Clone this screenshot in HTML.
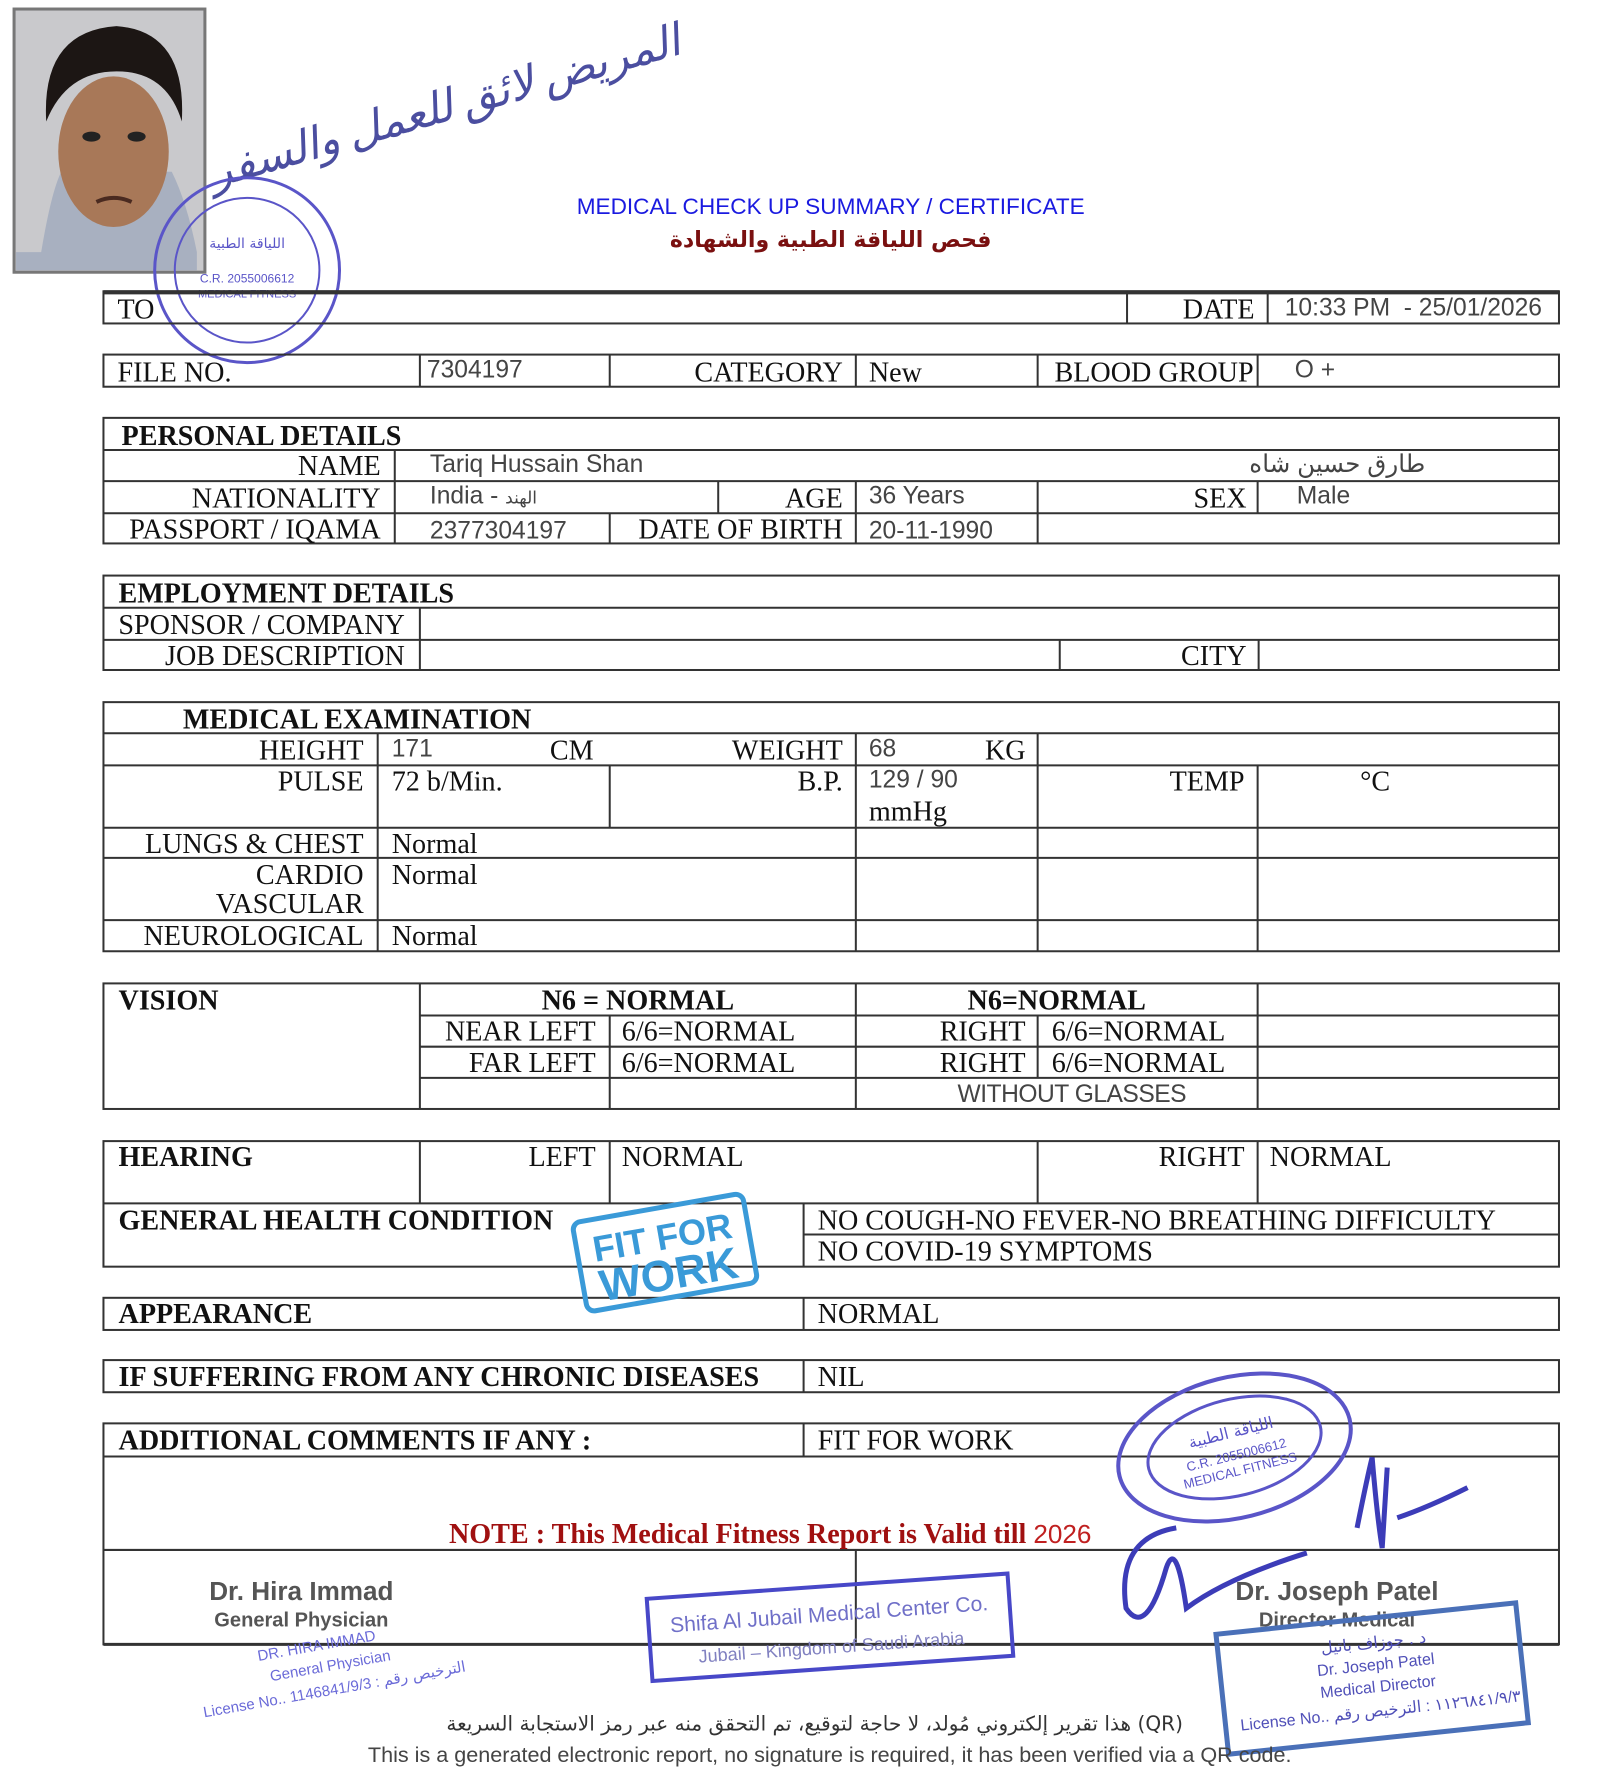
<!DOCTYPE html>
<html><head><meta charset="utf-8"><style>
html,body{margin:0;padding:0;background:#fff;width:1621px;height:1772px;overflow:hidden}
svg{display:block}
.s{font-family:"Liberation Serif","Noto Serif CJK SC",serif;font-size:28px;fill:#111}
.b{font-weight:bold}
.a{font-family:"Liberation Sans","Noto Sans CJK SC",sans-serif;font-size:24.5px;fill:#444}
.note{fill:#a01010}
</style></head><body>
<svg width="1621" height="1772" viewBox="0 0 1621 1772" xmlns="http://www.w3.org/2000/svg">
<g transform="translate(1,1) scale(1.0045)">
<rect x="13" y="8" width="190" height="262" fill="#c9c9cc" stroke="#777" stroke-width="3"/>
<path d="M40 250 Q50 190 60 170 L170 170 Q185 200 195 250 L195 268 L15 268 L15 250Z" fill="#a8b0c0"/>
<ellipse cx="112" cy="150" rx="55" ry="75" fill="#a87858"/>
<path d="M45 120 Q40 30 115 25 Q185 30 180 120 Q165 70 115 70 Q65 70 45 120Z" fill="#1c1614"/>
<ellipse cx="90" cy="135" rx="9" ry="5" fill="#222"/><ellipse cx="135" cy="135" rx="9" ry="5" fill="#222"/>
<path d="M95 200 Q112 192 130 200" stroke="#4a2a20" stroke-width="4" fill="none"/>
<text x="440" y="120" transform="rotate(-16 440 100)" text-anchor="middle" font-family="'Noto Sans CJK SC','DejaVu Sans',sans-serif" font-size="44" fill="#4b4ea0" font-style="italic">المريض لائق للعمل والسفر</text>
<g fill="none" stroke="#5a55c8" stroke-width="3"><circle cx="245" cy="268" r="92"/><circle cx="245" cy="268" r="72" stroke-width="2"/></g>
<text x="245" y="246" text-anchor="middle" font-family="'DejaVu Sans',sans-serif" font-size="14" fill="#5a55c8">اللياقة الطبية</text>
<text x="245" y="280" text-anchor="middle" font-family="'Liberation Sans',sans-serif" font-size="12" fill="#5a55c8">C.R. 2055006612</text>
<text x="245" y="295" text-anchor="middle" font-family="'Liberation Sans',sans-serif" font-size="11" fill="#5a55c8">MEDICAL FITNESS</text>
<text x="826" y="212" text-anchor="middle" font-family="'Liberation Sans',sans-serif" font-size="22.5" fill="#1a1ae0">MEDICAL CHECK UP SUMMARY / CERTIFICATE</text>
<text x="826" y="245" text-anchor="middle" font-family="'DejaVu Sans','Noto Sans CJK SC',sans-serif" font-size="22" font-weight="bold" fill="#7a1010">فحص اللياقة الطبية والشهادة</text>

<g stroke="#333" stroke-width="2" fill="none">
<rect x="102" y="289" width="1449" height="32"/><line x1="102" y1="290" x2="1551" y2="290" stroke-width="4"/>
<line x1="1121" y1="289" x2="1121" y2="321"/><line x1="1261" y1="289" x2="1261" y2="321"/>
<rect x="102" y="352" width="1449" height="32"/>
<line x1="417" y1="352" x2="417" y2="384"/><line x1="606" y1="352" x2="606" y2="384"/><line x1="851" y1="352" x2="851" y2="384"/><line x1="1032" y1="352" x2="1032" y2="384"/><line x1="1251" y1="352" x2="1251" y2="384"/>
<rect x="102" y="415" width="1449" height="125"/>
<line x1="102" y1="447" x2="1551" y2="447"/><line x1="102" y1="478" x2="1551" y2="478"/><line x1="102" y1="510" x2="1551" y2="510"/>
<line x1="392" y1="447" x2="392" y2="540"/>
<line x1="714" y1="478" x2="714" y2="510"/><line x1="851" y1="478" x2="851" y2="540"/><line x1="1032" y1="478" x2="1032" y2="540"/><line x1="1251" y1="478" x2="1251" y2="510"/>
<line x1="606" y1="510" x2="606" y2="540"/>
<rect x="102" y="572" width="1449" height="94"/>
<line x1="102" y1="604" x2="1551" y2="604"/><line x1="102" y1="636" x2="1551" y2="636"/>
<line x1="417" y1="604" x2="417" y2="666"/><line x1="1054" y1="636" x2="1054" y2="666"/><line x1="1252" y1="636" x2="1252" y2="666"/>
<rect x="102" y="698" width="1449" height="248"/>
<line x1="102" y1="729" x2="1551" y2="729"/><line x1="102" y1="761" x2="1551" y2="761"/><line x1="102" y1="823" x2="1551" y2="823"/><line x1="102" y1="853" x2="1551" y2="853"/><line x1="102" y1="915" x2="1551" y2="915"/>
<line x1="375" y1="729" x2="375" y2="946"/><line x1="851" y1="729" x2="851" y2="946"/><line x1="1032" y1="729" x2="1032" y2="946"/>
<line x1="606" y1="761" x2="606" y2="823"/><line x1="1251" y1="761" x2="1251" y2="946"/>
<rect x="102" y="978" width="1449" height="125"/>
<line x1="417" y1="1010" x2="1551" y2="1010"/><line x1="417" y1="1041" x2="1551" y2="1041"/><line x1="417" y1="1072" x2="1551" y2="1072"/>
<line x1="417" y1="978" x2="417" y2="1103"/><line x1="851" y1="978" x2="851" y2="1103"/><line x1="1251" y1="978" x2="1251" y2="1103"/>
<line x1="606" y1="1010" x2="606" y2="1103"/><line x1="1032" y1="1010" x2="1032" y2="1072"/>
<rect x="102" y="1135" width="1449" height="125"/>
<line x1="102" y1="1197" x2="1551" y2="1197"/>
<line x1="417" y1="1135" x2="417" y2="1197"/><line x1="606" y1="1135" x2="606" y2="1197"/><line x1="1032" y1="1135" x2="1032" y2="1197"/><line x1="1251" y1="1135" x2="1251" y2="1197"/>
<line x1="799" y1="1197" x2="799" y2="1260"/><line x1="799" y1="1228" x2="1551" y2="1228"/>
<rect x="102" y="1291" width="1449" height="32"/><line x1="799" y1="1291" x2="799" y2="1323"/>
<rect x="102" y="1353" width="1449" height="32"/><line x1="799" y1="1353" x2="799" y2="1385"/>
<rect x="102" y="1416" width="1449" height="220"/>
<line x1="102" y1="1449" x2="1551" y2="1449"/><line x1="799" y1="1416" x2="799" y2="1449"/>
<line x1="102" y1="1542" x2="1551" y2="1542"/><line x1="851" y1="1542" x2="851" y2="1636"/>
<line x1="102" y1="1636" x2="1551" y2="1636" stroke-width="3"/>
</g>

<text class="s" x="116" y="316">TO</text>
<text class="s" x="1248" y="316" text-anchor="end">DATE</text>
<text class="a" x="1278" y="313" font-size="25.5" xml:space="preserve">10:33 PM  - 25/01/2026</text>

<text class="s" x="116" y="379">FILE NO.</text>
<text class="a" x="424" y="375">7304197</text>
<text class="s" x="838" y="379" text-anchor="end">CATEGORY</text>
<text class="s" x="864" y="379">New</text>
<text class="s" x="1247" y="379" text-anchor="end">BLOOD GROUP</text>
<text class="a" x="1288" y="375">O +</text>

<text class="s b" x="120" y="442">PERSONAL DETAILS</text>
<text class="s" x="378" y="472" text-anchor="end">NAME</text>
<text class="a" x="427" y="469">Tariq Hussain Shan</text>
<text class="a" x="1418" y="469" text-anchor="end" font-family="'DejaVu Sans',sans-serif" font-size="17">طارق حسين شاه</text>
<text class="s" x="378" y="504" text-anchor="end">NATIONALITY</text>
<text class="a" x="427" y="500">India - <tspan font-family="'DejaVu Sans',sans-serif" font-size="17">الهند</tspan></text>
<text class="s" x="838" y="504" text-anchor="end">AGE</text>
<text class="a" x="864" y="500">36 Years</text>
<text class="s" x="1240" y="504" text-anchor="end">SEX</text>
<text class="a" x="1290" y="500">Male</text>
<text class="s" x="378" y="535" text-anchor="end">PASSPORT / IQAMA</text>
<text class="a" x="427" y="535">2377304197</text>
<text class="s" x="838" y="535" text-anchor="end">DATE OF BIRTH</text>
<text class="a" x="864" y="535">20-11-1990</text>

<text class="s b" x="117" y="599">EMPLOYMENT DETAILS</text>
<text class="s" x="402" y="630" text-anchor="end">SPONSOR / COMPANY</text>
<text class="s" x="402" y="661" text-anchor="end">JOB DESCRIPTION</text>
<text class="s" x="1240" y="661" text-anchor="end">CITY</text>

<text class="s b" x="181" y="724">MEDICAL EXAMINATION</text>
<text class="s" x="361" y="755" text-anchor="end">HEIGHT</text>
<text class="a" x="389" y="752">171</text>
<text class="s" x="590" y="755" text-anchor="end">CM</text>
<text class="s" x="838" y="755" text-anchor="end">WEIGHT</text>
<text class="a" x="864" y="752">68</text>
<text class="s" x="1020" y="755" text-anchor="end">KG</text>
<text class="s" x="361" y="786" text-anchor="end">PULSE</text>
<text class="s" x="389" y="786">72 b/Min.</text>
<text class="s" x="838" y="786" text-anchor="end">B.P.</text>
<text class="a" x="864" y="783">129 / 90</text>
<text class="s" x="864" y="816">mmHg</text>
<text class="s" x="1238" y="786" text-anchor="end">TEMP</text>
<text class="s" x="1353" y="786">°C</text>
<text class="s" x="361" y="848" text-anchor="end">LUNGS &amp; CHEST</text>
<text class="s" x="389" y="848">Normal</text>
<text class="s" x="361" y="879" text-anchor="end">CARDIO</text>
<text class="s" x="389" y="879">Normal</text>
<text class="s" x="361" y="908" text-anchor="end">VASCULAR</text>
<text class="s" x="361" y="940" text-anchor="end">NEUROLOGICAL</text>
<text class="s" x="389" y="940">Normal</text>

<text class="s b" x="117" y="1004">VISION</text>
<text class="s b" x="634" y="1004" text-anchor="middle">N6 = NORMAL</text>
<text class="s b" x="1051" y="1004" text-anchor="middle">N6=NORMAL</text>
<text class="s" x="592" y="1035" text-anchor="end">NEAR LEFT</text>
<text class="s" x="618" y="1035">6/6=NORMAL</text>
<text class="s" x="1020" y="1035" text-anchor="end">RIGHT</text>
<text class="s" x="1046" y="1035">6/6=NORMAL</text>
<text class="s" x="592" y="1066" text-anchor="end">FAR LEFT</text>
<text class="s" x="618" y="1066">6/6=NORMAL</text>
<text class="s" x="1020" y="1066" text-anchor="end">RIGHT</text>
<text class="s" x="1046" y="1066">6/6=NORMAL</text>
<text class="a" x="1066" y="1096" text-anchor="middle" fill="#222" letter-spacing="-0.5">WITHOUT GLASSES</text>

<text class="s b" x="117" y="1160">HEARING</text>
<text class="s" x="592" y="1160" text-anchor="end">LEFT</text>
<text class="s" x="618" y="1160">NORMAL</text>
<text class="s" x="1238" y="1160" text-anchor="end">RIGHT</text>
<text class="s" x="1263" y="1160">NORMAL</text>
<text class="s b" x="117" y="1223">GENERAL HEALTH CONDITION</text>
<text class="s" x="813" y="1223">NO COUGH-NO FEVER-NO BREATHING DIFFICULTY</text>
<text class="s" x="813" y="1254">NO COVID-19 SYMPTOMS</text>
<text class="s b" x="117" y="1316">APPEARANCE</text>
<text class="s" x="813" y="1316">NORMAL</text>
<text class="s b" x="117" y="1379">IF SUFFERING FROM ANY CHRONIC DISEASES</text>
<text class="s" x="813" y="1379">NIL</text>
<text class="s b" x="117" y="1442">ADDITIONAL COMMENTS IF ANY :</text>
<text class="s" x="813" y="1442">FIT FOR WORK</text>
<text class="s b note" x="446" y="1535">NOTE : This Medical Fitness Report is Valid till <tspan font-weight="normal" fill="#c02020" font-family="Liberation Sans,sans-serif" font-size="26">2026</tspan></text>

<g transform="rotate(-10 661 1246)">
<rect x="575" y="1201" width="172" height="90" rx="8" fill="none" stroke="#3a9ad8" stroke-width="5"/>
<text x="661" y="1243" text-anchor="middle" font-family="'Liberation Sans',sans-serif" font-weight="bold" font-size="36" fill="#3a9ad8">FIT FOR</text>
<text x="661" y="1283" text-anchor="middle" font-family="'Liberation Sans',sans-serif" font-weight="bold" font-size="44" fill="#3a9ad8">WORK</text>
</g>

<text x="299" y="1592" text-anchor="middle" font-family="'Liberation Sans',sans-serif" font-weight="bold" font-size="26" fill="#555">Dr. Hira Immad</text>
<text x="299" y="1618" text-anchor="middle" font-family="'Liberation Sans',sans-serif" font-weight="bold" font-size="20" fill="#555">General Physician</text>
<g transform="rotate(-10 330 1670)" font-family="'Liberation Sans',sans-serif" font-size="15" fill="#6a6ad8" text-anchor="middle">
<text x="320" y="1640">DR. HIRA IMMAD</text><text x="330" y="1662">General Physician</text><text x="330" y="1686">License No.. 1146841/9/3 : <tspan font-family="'DejaVu Sans',sans-serif">الترخيص رقم</tspan></text>
</g>
<g transform="rotate(-4 825 1615)">
<rect x="645" y="1578" width="360" height="82" fill="none" stroke="#4848c8" stroke-width="4"/>
<text x="825" y="1613" text-anchor="middle" font-family="'Liberation Sans',sans-serif" font-size="21" fill="#7070c8">Shifa Al Jubail Medical Center Co.</text>
<text x="825" y="1645" text-anchor="middle" font-family="'Liberation Sans',sans-serif" font-size="18" fill="#8080c0">Jubail – Kingdom of Saudi Arabia</text>
</g>
<g transform="rotate(-14 1228 1440)">
<ellipse cx="1228" cy="1440" rx="118" ry="70" fill="none" stroke="#5a55c8" stroke-width="4"/>
<ellipse cx="1228" cy="1440" rx="88" ry="48" fill="none" stroke="#5a55c8" stroke-width="3"/>
<text x="1228" y="1430" text-anchor="middle" font-family="'DejaVu Sans',sans-serif" font-size="16" fill="#5a55c8">اللياقة الطبية</text>
<text x="1228" y="1452" text-anchor="middle" font-family="'Liberation Sans',sans-serif" font-size="13" fill="#5a55c8">C.R. 2055006612</text>
<text x="1228" y="1468" text-anchor="middle" font-family="'Liberation Sans',sans-serif" font-size="13" fill="#5a55c8">MEDICAL FITNESS</text>
</g>
<path d="M1170 1520 Q1110 1530 1120 1600 Q1140 1630 1160 1560 Q1170 1530 1180 1600 Q1220 1570 1300 1545 M1350 1520 Q1360 1470 1365 1450 Q1370 1510 1375 1540 L1380 1460 M1390 1510 Q1420 1500 1460 1480" fill="none" stroke="#3c3cb8" stroke-width="5"/>
<text x="1330" y="1592" text-anchor="middle" font-family="'Liberation Sans',sans-serif" font-weight="bold" font-size="26" fill="#555">Dr. Joseph Patel</text>
<text x="1330" y="1618" text-anchor="middle" font-family="'Liberation Sans',sans-serif" font-weight="bold" font-size="20" fill="#555">Director Medical</text>
<g transform="rotate(-6 1365 1670)">
<rect x="1215" y="1610" width="300" height="120" fill="none" stroke="#4a70b8" stroke-width="5"/>
<g font-family="'Liberation Sans',sans-serif" font-size="16" fill="#5050b8" text-anchor="middle">
<text x="1370" y="1640" font-family="'DejaVu Sans',sans-serif">د . جوزاف باتيل</text><text x="1370" y="1662">Dr. Joseph Patel</text><text x="1370" y="1684">Medical Director</text><text x="1370" y="1708">License No.. ١١٢٦٨٤١/٩/٣ : الترخيص رقم</text></g>
</g>

<text x="810" y="1722" text-anchor="middle" font-family="'DejaVu Sans',sans-serif" font-size="20" fill="#333">هذا تقرير إلكتروني مُولد، لا حاجة لتوقيع، تم التحقق منه عبر رمز الاستجابة السريعة (QR)</text>
<text x="825" y="1753" text-anchor="middle" font-family="'Liberation Sans',sans-serif" font-size="21.5" fill="#444">This is a generated electronic report, no signature is required, it has been verified via a QR code.</text>
</g>
</svg>
</body></html>
